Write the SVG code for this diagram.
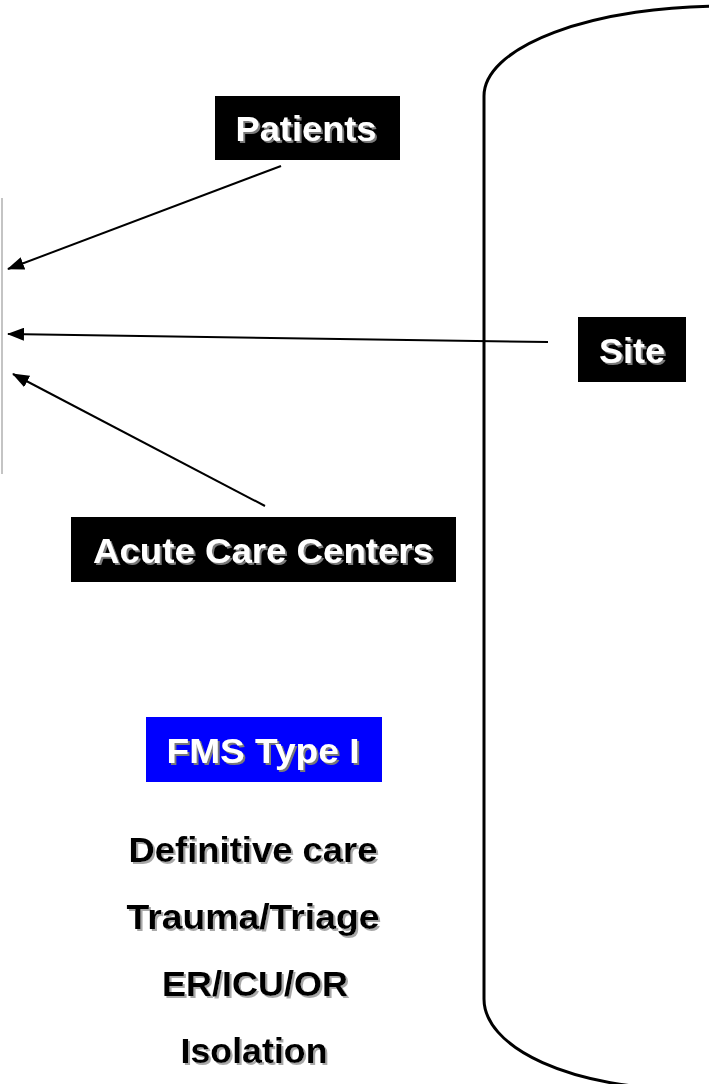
<svg xmlns="http://www.w3.org/2000/svg" width="709" height="1084" viewBox="0 0 709 1084">
  <defs>
    <style>
      .lbl { font-family: "Liberation Sans", Arial, sans-serif; font-weight: bold; font-size: 35px; text-anchor: middle; }
      .inv { fill: #ffffff; filter: url(#shadowDark); }
      .ink { fill: #000000; filter: url(#shadowLight); }
      .box { fill: #000000; }
      .edge { stroke: #000000; stroke-width: 2; fill: none; marker-end: url(#head); }
    </style>
    <filter id="shadowDark" x="-10%" y="-20%" width="130%" height="150%">
      <feDropShadow dx="2" dy="2" stdDeviation="0.4" flood-color="#7a7a7a" flood-opacity="1"/>
    </filter>
    <filter id="shadowLight" x="-10%" y="-20%" width="130%" height="150%">
      <feDropShadow dx="2" dy="2" stdDeviation="0.4" flood-color="#a8a8a8" flood-opacity="1"/>
    </filter>
    <marker id="head" viewBox="0 0 17 13" refX="16" refY="6.5" markerWidth="17" markerHeight="13" markerUnits="userSpaceOnUse" orient="auto">
      <path d="M0,0 L17,6.5 L0,13 Z" fill="#000000"/>
    </marker>
  </defs>

  <rect width="709" height="1084" fill="#ffffff"/>

  <!-- large container outline, cropped at the right and bottom -->
  <g id="container">
    <path d="M484,96 A240,90 0 0 1 724,6 M484,96 L484,999 A200,90 0 0 0 684,1089" fill="none" stroke="#000000" stroke-width="3"/>
  </g>

  <!-- thin grey bar at the left edge -->
  <g id="bar">
    <line x1="2" y1="198" x2="2" y2="474" stroke="#b0b0b0" stroke-width="1.5"/>
  </g>

  <g id="connectors">
    <line class="edge" x1="281" y1="166" x2="8" y2="269"/>
    <line class="edge" x1="548" y1="342" x2="8" y2="334"/>
    <line class="edge" x1="265" y1="506" x2="13" y2="374"/>
  </g>

  <g id="patients">
    <rect class="box" x="215" y="96" width="185" height="64"/>
    <text class="lbl inv" x="306" y="141" textLength="141" lengthAdjust="spacingAndGlyphs">Patients</text>
  </g>

  <g id="site">
    <rect class="box" x="578" y="317" width="108" height="65"/>
    <text class="lbl inv" x="632" y="363" textLength="66" lengthAdjust="spacingAndGlyphs">Site</text>
  </g>

  <g id="acute-care-centers">
    <rect class="box" x="71" y="517" width="385" height="65"/>
    <text class="lbl inv" x="263" y="563" textLength="340" lengthAdjust="spacingAndGlyphs">Acute Care Centers</text>
  </g>

  <g id="fms-type-1">
    <rect x="146" y="717" width="236" height="65" fill="#0000ff"/>
    <text class="lbl inv" x="263" y="763" textLength="193" lengthAdjust="spacingAndGlyphs">FMS Type I</text>
  </g>

  <g id="capabilities">
    <text class="lbl ink" x="253" y="862" textLength="249" lengthAdjust="spacingAndGlyphs">Definitive care</text>
    <text class="lbl ink" x="253" y="929" textLength="253" lengthAdjust="spacingAndGlyphs">Trauma/Triage</text>
    <text class="lbl ink" x="255" y="996" textLength="186" lengthAdjust="spacingAndGlyphs">ER/ICU/OR</text>
    <text class="lbl ink" x="254" y="1063" textLength="147" lengthAdjust="spacingAndGlyphs">Isolation</text>
  </g>
</svg>
